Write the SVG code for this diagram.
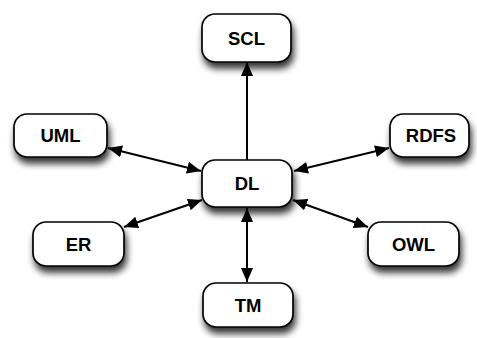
<svg xmlns="http://www.w3.org/2000/svg" width="477" height="338" viewBox="0 0 477 338">
  <style>
    .box { fill: #ffffff; stroke: #000000; stroke-width: 1.7; filter: url(#shadow); }
    .label { font-family: "Liberation Sans", Arial, sans-serif; font-weight: bold; font-size: 18.5px; fill: #000000; text-anchor: middle; dominant-baseline: central; }
    .edge { fill: none; stroke: #000000; stroke-width: 2; marker-end: url(#head); }
    .both { marker-start: url(#head); }
  </style>
  <defs>
    <filter id="shadow" x="-30%" y="-30%" width="160%" height="190%">
      <feGaussianBlur in="SourceAlpha" stdDeviation="3.5"/>
      <feOffset dx="2" dy="6" result="blur"/>
      <feComponentTransfer><feFuncA type="linear" slope="0.8"/></feComponentTransfer>
      <feMerge><feMergeNode/><feMergeNode in="SourceGraphic"/></feMerge>
    </filter>
    <marker id="head" viewBox="0 0 14 12" refX="14" refY="6" markerWidth="14" markerHeight="12" markerUnits="userSpaceOnUse" orient="auto-start-reverse">
      <path d="M0,0 L14,6 L0,12 Z" fill="#000000"/>
    </marker>
  </defs>

  <g id="connectors">
    <line class="edge" x1="247" y1="160" x2="247" y2="62"/>
    <line class="edge both" x1="201" y1="171" x2="108" y2="148"/>
    <line class="edge both" x1="294" y1="171" x2="389" y2="148"/>
    <line class="edge both" x1="202" y1="200" x2="124" y2="227"/>
    <line class="edge both" x1="293" y1="200" x2="368" y2="227"/>
    <line class="edge both" x1="247" y1="208" x2="247" y2="282"/>
  </g>

  <g id="SCL">
    <rect class="box" x="202" y="14" width="89" height="48" rx="13"/>
    <text class="label" x="246.5" y="38">SCL</text>
  </g>
  <g id="DL">
    <rect class="box" x="202" y="160" width="90" height="47" rx="13"/>
    <text class="label" x="247" y="183.5">DL</text>
  </g>
  <g id="UML">
    <rect class="box" x="14" y="114" width="93" height="43" rx="13"/>
    <text class="label" x="60.5" y="135.5">UML</text>
  </g>
  <g id="RDFS">
    <rect class="box" x="390" y="114" width="79" height="43" rx="13"/>
    <text class="label" x="431" y="135.5">RDFS</text>
  </g>
  <g id="ER">
    <rect class="box" x="33" y="222" width="91" height="44" rx="13"/>
    <text class="label" x="78.5" y="244">ER</text>
  </g>
  <g id="OWL">
    <rect class="box" x="368" y="222" width="91" height="44" rx="13"/>
    <text class="label" x="413.5" y="244">OWL</text>
  </g>
  <g id="TM">
    <rect class="box" x="203" y="283" width="90" height="44" rx="13"/>
    <text class="label" x="248" y="305">TM</text>
  </g>
</svg>
